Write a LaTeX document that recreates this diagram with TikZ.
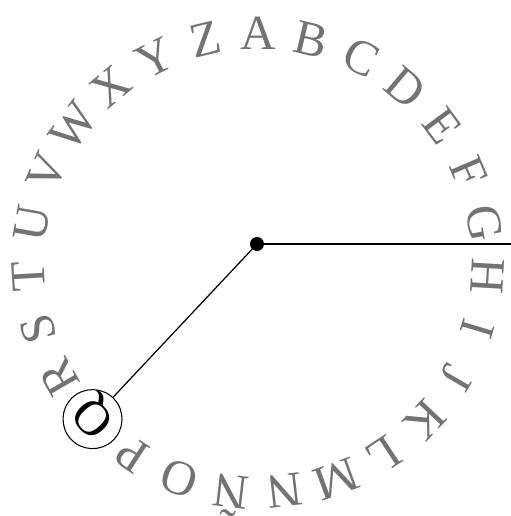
\documentclass[tikz,border=0pt]{standalone}
\usepackage{fontspec}
\setmainfont{Liberation Serif}
\definecolor{lettergray}{gray}{0.45}

\begin{document}
\begin{tikzpicture}[
    letter/.style={text=lettergray, font=\fontsize{28}{28}\selectfont, inner sep=0pt, text height=0.66cm, text depth=0pt},
    picked/.style={letter, text=black, circle, draw, line width=0.6pt, minimum size=1.18cm},
    hub/.style={circle, fill=black, inner sep=0pt, minimum size=0.28cm},
    spoke/.style={line width=0.7pt}
]
    \useasboundingbox (-5.16,-5.06) rectangle (5.06,5.26);

    % Ring of letters, A at the top, clockwise
    \foreach \l [count=\i from 0] in {A,B,C,D,E,F,G,H,I,J,K,L,M,N,Ñ,O,P} {
        \pgfmathsetmacro\a{90-\i*360/27}
        \node[letter, rotate=\a-90] (l\i) at (\a:4.6) {\l};
    }
    \foreach \l [count=\i from 18] in {R,S,T,U,V,W,X,Y,Z} {
        \pgfmathsetmacro\a{90-\i*360/27}
        \node[letter, rotate=\a-90] (l\i) at (\a:4.6) {\l};
    }

    % Chosen letter
    \node[picked, rotate=-226.667] (q) at (-136.667:4.55) {Q};

    % Hub and pointers
    \node[hub] (hub) at (-0.02,0.38) {};
    \coordinate (rim) at (5.06,0.38);
    \draw[spoke] (hub.center) -- (rim);
    \draw[spoke] (hub.center) -- (q);

\end{tikzpicture}
\end{document}
